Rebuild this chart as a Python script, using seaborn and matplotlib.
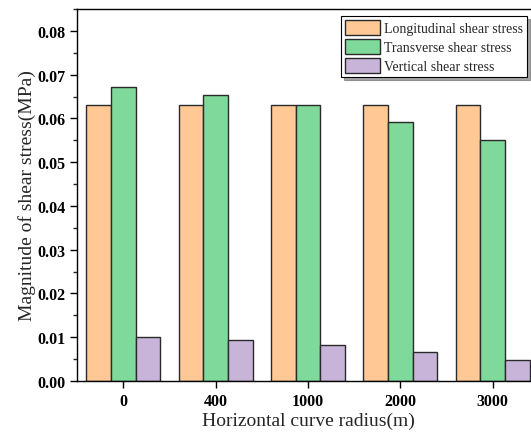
import matplotlib
matplotlib.use("Agg")
import matplotlib.pyplot as plt
import seaborn as sns
import pandas as pd
from matplotlib.ticker import MultipleLocator

radius = ["0", "400", "1000", "2000", "3000"]
longitudinal = [0.0631, 0.0630, 0.0630, 0.0630, 0.0630]
transverse = [0.0671, 0.0654, 0.0631, 0.0592, 0.0551]
vertical = [0.0100, 0.0094, 0.0083, 0.0066, 0.0048]
series = ["Longitudinal shear stress", "Transverse shear stress", "Vertical shear stress"]
colors = ["#FFC895", "#7ED99B", "#C8B4D9"]

df = pd.DataFrame({
    "radius": radius * 3,
    "stress": longitudinal + transverse + vertical,
    "type": [series[0]] * 5 + [series[1]] * 5 + [series[2]] * 5,
})

sns.set_style("ticks")
plt.rcParams["font.family"] = ["Liberation Serif", "DejaVu Serif"]

fig = plt.figure(figsize=(5.31, 4.35), dpi=100)
ax = fig.add_axes([77 / 531, 1 - 382 / 435, 462 / 531, 372 / 435])

sns.barplot(data=df, x="radius", y="stress", hue="type", order=radius,
            hue_order=series, palette=colors, saturation=1, edgecolor="#2a2a2a",
            linewidth=1.0, width=0.8, ax=ax, legend=True)

ax.set_xlim(-0.5, 4.5)
ax.set_ylim(0, 0.085)
ax.yaxis.set_major_locator(MultipleLocator(0.01))
ax.yaxis.set_minor_locator(MultipleLocator(0.005))
ax.yaxis.set_major_formatter(matplotlib.ticker.FormatStrFormatter("%.2f"))

for s in ax.spines.values():
    s.set_linewidth(1.0)
    s.set_color("black")
ax.tick_params(axis="both", which="major", direction="out", length=5, width=1.0,
               labelsize=11.5, colors="black")
ax.tick_params(axis="y", which="minor", direction="out", length=3, width=1.0)
ax.tick_params(top=False, right=False)
for lbl in ax.get_xticklabels() + ax.get_yticklabels():
    lbl.set_fontweight("bold")

ax.set_xlabel("Horizontal curve radius(m)", fontsize=14, labelpad=2)
ax.set_ylabel("Magnitude of shear stress(MPa)", fontsize=14, labelpad=1)

handles, labels = ax.get_legend_handles_labels()
ax.legend(handles, labels, loc="upper right",
          bbox_to_anchor=(527 / 531, 1 - 17 / 435), bbox_transform=fig.transFigure,
          fontsize=10, frameon=True, fancybox=False, shadow=True,
          edgecolor="black", framealpha=1, handlelength=2.5, handleheight=1.3,
          handletextpad=0.3, borderpad=0.3, labelspacing=0.25, borderaxespad=0)
ax.get_legend().get_frame().set_linewidth(0.8)

fig.savefig("out.png", dpi=100)
